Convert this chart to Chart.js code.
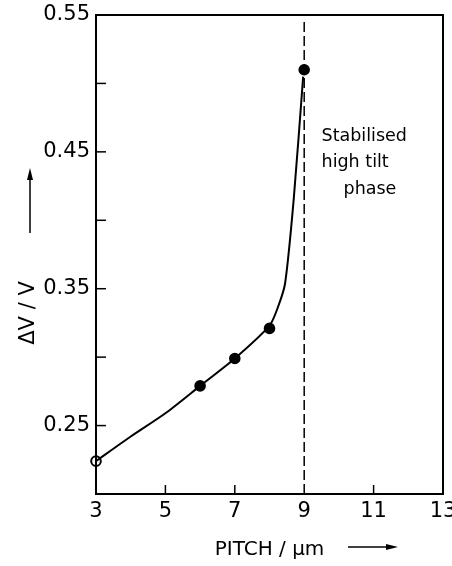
<!DOCTYPE html>
<html lang="en">

<head>
    <meta charset="UTF-8">
    <title>Pitch vs dV/V</title>
    <script src="https://cdn.jsdelivr.net/npm/chart.js"></script>
    <style>
        html, body {
            margin: 0;
            padding: 0;
            background: white;
        }

        #wrap {
            width: 452px;
            height: 566px;
        }
    </style>
</head>

<body>
    <div id="wrap">
        <canvas id="pitchChart" width="452" height="566"></canvas>
    </div>

    <script>
        // measured points
        const pitch = [3, 6, 7, 8, 9];
        const dvv = [0.224, 0.279, 0.299, 0.321, 0.510];
        const pointKind = ['open', 'filled', 'filled', 'filled', 'filled'];

        // drawn curve
        const curvePitch = [3, 4, 5, 6, 7, 8, 8.25, 8.45, 8.7, 8.97];
        const curveDvv = [0.224, 0.242, 0.259, 0.279, 0.299, 0.323, 0.337, 0.354, 0.416, 0.505];

        // phase boundary
        const boundaryPitch = [9, 9];
        const boundaryDvv = [0.20, 0.546];

        const xTicks = [3, 5, 7, 9, 11, 13];
        const yTicks = [0.25, 0.35, 0.45, 0.55];
        const yMinor = [0.30, 0.40, 0.50];
        const phaseLabel = ['Stabilised', 'high tilt', 'phase'];
        const yTitle = 'ΔV / V';

        const FONT = 'DejaVu Sans';

        const toXY = (xs, ys) => xs.map((x, i) => ({ x: x, y: ys[i] }));

        // inward ticks, frame, arrows and the text
        const decorations = {
            id: 'decorations',
            afterDraw(chart) {
                const ctx = chart.ctx;
                const a = chart.chartArea;
                const xs = chart.scales.x;
                const ys = chart.scales.y;
                ctx.save();
                ctx.strokeStyle = '#000';
                ctx.fillStyle = '#000';
                ctx.lineWidth = 2;
                ctx.strokeRect(a.left, a.top, a.right - a.left, a.bottom - a.top);

                ctx.lineWidth = 1.5;
                [...yTicks, ...yMinor].forEach(v => {
                    const py = ys.getPixelForValue(v);
                    ctx.beginPath();
                    ctx.moveTo(a.left, py);
                    ctx.lineTo(a.left + 10, py);
                    ctx.stroke();
                });
                [5, 7, 11].forEach(v => {
                    const px = xs.getPixelForValue(v);
                    ctx.beginPath();
                    ctx.moveTo(px, a.bottom);
                    ctx.lineTo(px, a.bottom - 9);
                    ctx.stroke();
                });

                // y title, rotated
                ctx.save();
                ctx.translate(29, 313);
                ctx.rotate(-Math.PI / 2);
                ctx.font = '21px "' + FONT + '"';
                ctx.textAlign = 'center';
                ctx.textBaseline = 'middle';
                ctx.fillText(yTitle, 0, 0);
                ctx.restore();

                // y arrow
                ctx.beginPath();
                ctx.moveTo(30, 233);
                ctx.lineTo(30, 172);
                ctx.stroke();
                ctx.beginPath();
                ctx.moveTo(30, 168);
                ctx.lineTo(27, 180);
                ctx.lineTo(33, 180);
                ctx.closePath();
                ctx.fill();

                // x arrow
                ctx.beginPath();
                ctx.moveTo(348, 547);
                ctx.lineTo(392, 547);
                ctx.stroke();
                ctx.beginPath();
                ctx.moveTo(398, 547);
                ctx.lineTo(386, 544);
                ctx.lineTo(386, 550);
                ctx.closePath();
                ctx.fill();

                // phase note
                ctx.font = '17.5px "' + FONT + '"';
                ctx.textAlign = 'left';
                ctx.textBaseline = 'alphabetic';
                const tx = xs.getPixelForValue(9.5);
                ctx.fillText(phaseLabel[0], tx, ys.getPixelForValue(0.458));
                ctx.fillText(phaseLabel[1], tx, ys.getPixelForValue(0.439));
                ctx.fillText(phaseLabel[2], tx + 22, ys.getPixelForValue(0.419));
                ctx.restore();
            }
        };

        const ctx = document.getElementById('pitchChart').getContext('2d');
        const pitchChart = new Chart(ctx, {
            type: 'scatter',
            data: {
                datasets: [{
                    label: 'boundary',
                    data: toXY(boundaryPitch, boundaryDvv),
                    showLine: true,
                    borderColor: '#000',
                    borderWidth: 1.5,
                    borderDash: [10, 4],
                    pointRadius: 0
                }, {
                    label: 'curve',
                    data: toXY(curvePitch, curveDvv),
                    showLine: true,
                    borderColor: '#000',
                    borderWidth: 2,
                    tension: 0.25,
                    pointRadius: 0
                }, {
                    label: 'measured',
                    data: toXY(pitch, dvv),
                    clip: false,
                    pointRadius: 4.8,
                    pointBorderWidth: 2,
                    pointBorderColor: '#000',
                    pointBackgroundColor: pointKind.map(k => k === 'open' ? '#fff' : '#000')
                }]
            },
            options: {
                responsive: false,
                animation: false,
                layout: {
                    padding: { top: 15, right: 9, bottom: 0, left: 0 }
                },
                plugins: {
                    legend: { display: false },
                    tooltip: { enabled: false }
                },
                scales: {
                    x: {
                        type: 'linear',
                        min: 3,
                        max: 13,
                        afterBuildTicks: s => { s.ticks = xTicks.map(v => ({ value: v })); },
                        afterFit: s => { s.height = 72; s.paddingLeft = 0; s.paddingRight = 0; },
                        grid: { display: false, drawTicks: false },
                        border: { display: false },
                        ticks: {
                            color: '#000',
                            padding: 5,
                            font: { family: FONT, size: 21 }
                        },
                        title: {
                            display: true,
                            text: 'PITCH / μm',
                            color: '#000',
                            font: { family: FONT, size: 20 },
                            padding: { top: 10 }
                        }
                    },
                    y: {
                        type: 'linear',
                        min: 0.20,
                        max: 0.55,
                        afterBuildTicks: s => { s.ticks = yTicks.map(v => ({ value: v })); },
                        afterFit: s => { s.width = 96; s.paddingTop = 0; s.paddingBottom = 0; },
                        grid: { display: false, drawTicks: false },
                        border: { display: false },
                        ticks: {
                            color: '#000',
                            padding: 6,
                            font: { family: FONT, size: 21 },
                            callback: v => v.toFixed(2)
                        }
                    }
                }
            },
            plugins: [decorations]
        });
    </script>
</body>

</html>
